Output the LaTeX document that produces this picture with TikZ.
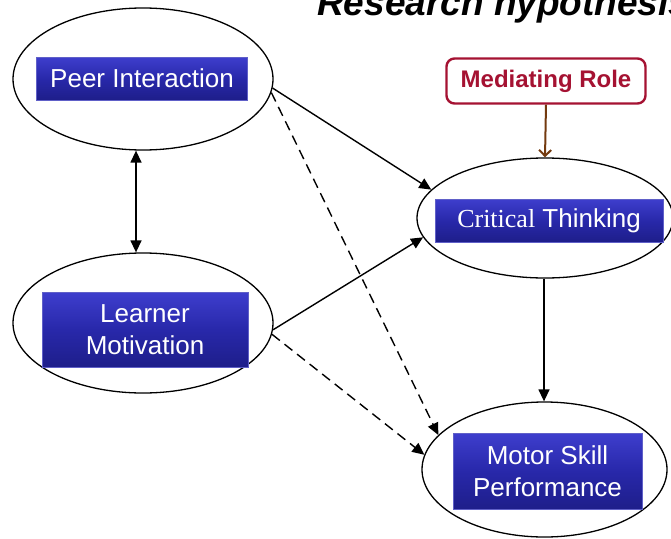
\documentclass[tikz,border=0pt]{standalone}
\usepackage{fontspec}
\setmainfont{Liberation Sans}
\newfontfamily\tnr{Liberation Serif}
\usetikzlibrary{shapes.geometric,arrows.meta}
\definecolor{boxtop}{RGB}{62,62,205}
\definecolor{boxmid}{RGB}{40,40,170}
\definecolor{boxbot}{RGB}{30,30,138}
\definecolor{boxedge}{RGB}{96,96,200}
\definecolor{medred}{RGB}{165,18,50}
\definecolor{brownarrow}{RGB}{115,58,15}
\tikzset{
  oval/.style={ellipse, draw=black, line width=1.3pt, inner sep=0pt, fill=white},
  bluebox/.style={draw=boxedge, line width=0.8pt, top color=boxtop, bottom color=boxbot, middle color=boxmid,
    text=white, font=\fontsize{26}{32}\selectfont, align=center, inner sep=0pt},
  conn/.style={line width=1.4pt, -{Triangle[length=12pt,width=11pt]}},
  dconn/.style={conn, dash pattern=on 10pt off 6pt},
}
\begin{document}
\begin{tikzpicture}[x=1pt,y=-1pt]
\path[use as bounding box] (0,0) rectangle (671,538);
\clip (0,0) rectangle (671,538);
% title
\node[anchor=base west, inner sep=0pt, font=\bfseries\itshape\fontsize{37}{42}\selectfont] (title) at (317,15) {Research hypothesis};
% ellipses
\node[oval, minimum width=260pt, minimum height=142pt] (peerE) at (143,79) {};
\node[oval, minimum width=260pt, minimum height=140pt] (learnE) at (143,323) {};
\node[oval, minimum width=256pt, minimum height=120pt] (critE) at (545,218) {};
\node[oval, minimum width=245pt, minimum height=135pt] (motorE) at (544.5,469.5) {};
% boxes
\node[bluebox, minimum width=211pt, minimum height=43pt] (peer) at (142,78.5) {Peer Interaction};
\node[bluebox, minimum width=206pt, minimum height=75pt] (learn) at (145,329.5) {Learner\\Motivation};
\node[bluebox, minimum width=228pt, minimum height=43pt] (crit) at (549,220.5) {{\tnr Critical} Thinking};
\node[bluebox, minimum width=189pt, minimum height=76pt] (motor) at (547.5,471) {Motor Skill\\Performance};
% mediating role
\node[draw=medred, line width=2.4pt, rounded corners=8pt, fill=white, minimum width=199pt, minimum height=45pt,
  inner sep=0pt, text=medred, font=\bfseries\fontsize{24}{28}\selectfont] (med) at (546,81) {Mediating Role};
% connectors
\draw[line width=1.4pt, {Triangle[length=12pt,width=11pt]}-{Triangle[length=12pt,width=11pt]}]
  ([xshift=-7pt]peerE.south) -- ([xshift=-7pt]learnE.north);
\draw[conn] (peerE.-4) -- (critE.166);
\draw[dconn] (peerE.-6) -- (motorE.162);
\draw[conn] (learnE.-3) -- (critE.189);
\draw[dconn] (learnE.-5) -- (motorE.173);
\draw[conn] ([xshift=-1pt]critE.south) -- ([xshift=-0.5pt]motorE.north);
\draw[line width=2pt, draw=brownarrow, -{Straight Barb[length=6pt,width=12pt,line width=2pt]}] (med.south) -- (critE.north);
\end{tikzpicture}
\end{document}
